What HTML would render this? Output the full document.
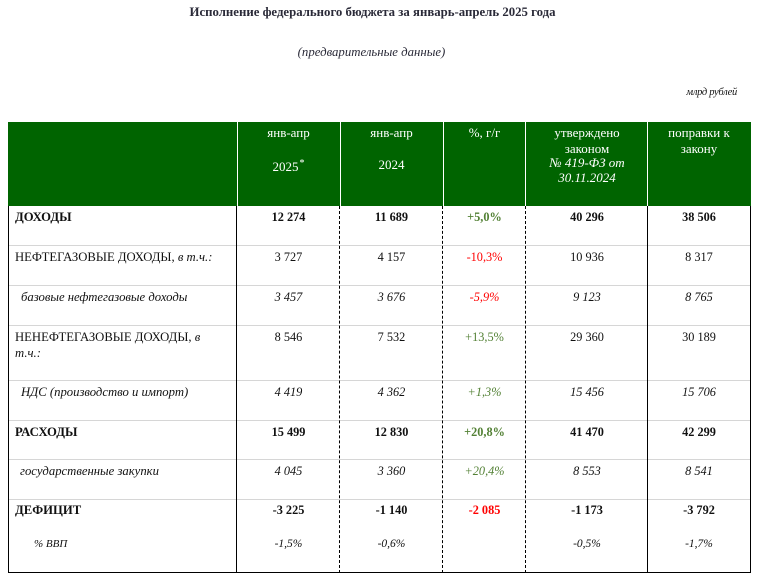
<!DOCTYPE html>
<html>
<head>
<meta charset="utf-8">
<style>
  html,body{margin:0;padding:0;background:#fff;}
  body{width:759px;height:579px;position:relative;overflow:hidden;font-family:"Liberation Serif","Noto Serif CJK SC",serif;color:#111;}
  .a{position:absolute;white-space:nowrap;}
  .t{font-size:12.3px;line-height:14px;}
  .L{font-size:12.7px;line-height:14px;}
  .c{text-align:center;}
  .b{font-weight:bold;}
  .i{font-style:italic;}
  .g{color:#538135;}
  .r{color:#ff0000;}
  .hl{position:absolute;height:1px;background:#d6d6d6;left:9px;width:741px;}
  .vs{position:absolute;width:1px;background:#000;top:206px;height:367px;}
  .vd{position:absolute;width:0;border-left:1px dashed #000;top:206px;height:367px;}
  .wh{position:absolute;width:1px;background:#fff;top:122px;height:84px;}
  .h{color:#fff;font-size:13px;line-height:14px;text-align:center;}
  .p{font-size:11.5px;line-height:12px;}
</style>
</head>
<body>
<!-- Title -->
<div class="a b" style="left:0;width:745px;top:4px;font-size:12.8px;line-height:17px;text-align:center;color:#2a2a38;">Исполнение федерального бюджета за январь-апрель 2025 года</div>
<div class="a i" style="left:0;width:743px;top:44px;font-size:12.8px;line-height:17px;text-align:center;color:#2a2a38;">(предварительные данные)</div>
<div class="a i" style="right:22px;top:86px;font-size:10.5px;line-height:13px;letter-spacing:-0.3px;color:#111;">млрд рублей</div>

<!-- Header -->
<div class="a" style="left:8px;top:122px;width:743px;height:84px;background:#006400;"></div>
<div class="wh" style="left:237px;"></div>
<div class="wh" style="left:340px;"></div>
<div class="wh" style="left:443px;"></div>
<div class="wh" style="left:525px;"></div>
<div class="wh" style="left:647px;"></div>

<div class="a h" style="left:237px;width:103px;top:126px;">янв-апр</div>
<div class="a h" style="left:237px;width:103px;top:160px;">2025<span style="position:relative;top:-5px;font-size:10px;margin-left:1px;">*</span></div>
<div class="a h" style="left:340px;width:103px;top:126px;">янв-апр</div>
<div class="a h" style="left:340px;width:103px;top:158px;">2024</div>
<div class="a h" style="left:443px;width:83px;top:126px;">%, г/г</div>
<div class="a h" style="left:526px;width:122px;top:126px;">утверждено</div>
<div class="a h" style="left:526px;width:122px;top:142px;">законом</div>
<div class="a h i" style="left:526px;width:122px;top:156px;">№ 419-ФЗ от</div>
<div class="a h i" style="left:526px;width:122px;top:171px;">30.11.2024</div>
<div class="a h" style="left:648px;width:102px;top:126px;">поправки к</div>
<div class="a h" style="left:648px;width:102px;top:142px;">закону</div>

<!-- Horizontal separators -->
<div class="hl" style="top:245px;"></div>
<div class="hl" style="top:285px;"></div>
<div class="hl" style="top:325px;"></div>
<div class="hl" style="top:380px;"></div>
<div class="hl" style="top:420px;"></div>
<div class="hl" style="top:459px;"></div>
<div class="hl" style="top:499px;"></div>

<!-- Vertical lines -->
<div class="vs" style="left:8px;"></div>
<div class="vs" style="left:236px;"></div>
<div class="vd" style="left:339px;"></div>
<div class="vd" style="left:442px;"></div>
<div class="vd" style="left:525px;"></div>
<div class="vs" style="left:647px;"></div>
<div class="vs" style="left:750px;"></div>
<div class="a" style="left:8px;top:572px;width:743px;height:1px;background:#000;"></div>

<!-- Row 1 ДОХОДЫ -->
<div class="a L b" style="left:15px;top:210px;">ДОХОДЫ</div>
<div class="a t b c" style="left:237px;width:103px;top:210px;">12 274</div>
<div class="a t b c" style="left:340px;width:103px;top:210px;">11 689</div>
<div class="a t b c g" style="left:443px;width:83px;top:210px;">+5,0%</div>
<div class="a t b c" style="left:526px;width:122px;top:210px;">40 296</div>
<div class="a t b c" style="left:648px;width:102px;top:210px;">38 506</div>

<!-- Row 2 -->
<div class="a L" style="left:15px;top:250px;">НЕФТЕГАЗОВЫЕ ДОХОДЫ, <i>в т.ч.:</i></div>
<div class="a t c" style="left:237px;width:103px;top:250px;">3 727</div>
<div class="a t c" style="left:340px;width:103px;top:250px;">4 157</div>
<div class="a t c r" style="left:443px;width:83px;top:250px;">-10,3%</div>
<div class="a t c" style="left:526px;width:122px;top:250px;">10 936</div>
<div class="a t c" style="left:648px;width:102px;top:250px;">8 317</div>

<!-- Row 3 -->
<div class="a L i" style="left:21px;top:290px;">базовые нефтегазовые доходы</div>
<div class="a t c i" style="left:237px;width:103px;top:290px;">3 457</div>
<div class="a t c i" style="left:340px;width:103px;top:290px;">3 676</div>
<div class="a t c i r" style="left:443px;width:83px;top:290px;">-5,9%</div>
<div class="a t c i" style="left:526px;width:122px;top:290px;">9 123</div>
<div class="a t c i" style="left:648px;width:102px;top:290px;">8 765</div>

<!-- Row 4 -->
<div class="a L" style="left:15px;top:330px;">НЕНЕФТЕГАЗОВЫЕ ДОХОДЫ, <i>в</i></div>
<div class="a L i" style="left:15px;top:346px;">т.ч.:</div>
<div class="a t c" style="left:237px;width:103px;top:330px;">8 546</div>
<div class="a t c" style="left:340px;width:103px;top:330px;">7 532</div>
<div class="a t c g" style="left:443px;width:83px;top:330px;">+13,5%</div>
<div class="a t c" style="left:526px;width:122px;top:330px;">29 360</div>
<div class="a t c" style="left:648px;width:102px;top:330px;">30 189</div>

<!-- Row 5 -->
<div class="a L i" style="left:21px;top:385px;">НДС (производство и импорт)</div>
<div class="a t c i" style="left:237px;width:103px;top:385px;">4 419</div>
<div class="a t c i" style="left:340px;width:103px;top:385px;">4 362</div>
<div class="a t c i g" style="left:443px;width:83px;top:385px;">+1,3%</div>
<div class="a t c i" style="left:526px;width:122px;top:385px;">15 456</div>
<div class="a t c i" style="left:648px;width:102px;top:385px;">15 706</div>

<!-- Row 6 РАСХОДЫ -->
<div class="a L b" style="left:15px;top:425px;">РАСХОДЫ</div>
<div class="a t b c" style="left:237px;width:103px;top:425px;">15 499</div>
<div class="a t b c" style="left:340px;width:103px;top:425px;">12 830</div>
<div class="a t b c g" style="left:443px;width:83px;top:425px;">+20,8%</div>
<div class="a t b c" style="left:526px;width:122px;top:425px;">41 470</div>
<div class="a t b c" style="left:648px;width:102px;top:425px;">42 299</div>

<!-- Row 7 -->
<div class="a L i" style="left:20px;top:464px;">государственные закупки</div>
<div class="a t c i" style="left:237px;width:103px;top:464px;">4 045</div>
<div class="a t c i" style="left:340px;width:103px;top:464px;">3 360</div>
<div class="a t c i g" style="left:443px;width:83px;top:464px;">+20,4%</div>
<div class="a t c i" style="left:526px;width:122px;top:464px;">8 553</div>
<div class="a t c i" style="left:648px;width:102px;top:464px;">8 541</div>

<!-- Row 8 ДЕФИЦИТ -->
<div class="a L b" style="left:15px;top:503px;">ДЕФИЦИТ</div>
<div class="a t b c" style="left:237px;width:103px;top:503px;">-3 225</div>
<div class="a t b c" style="left:340px;width:103px;top:503px;">-1 140</div>
<div class="a t b c r" style="left:443px;width:83px;top:503px;">-2 085</div>
<div class="a t b c" style="left:526px;width:122px;top:503px;">-1 173</div>
<div class="a t b c" style="left:648px;width:102px;top:503px;">-3 792</div>

<!-- Row 9 % ВВП -->
<div class="a i" style="left:34px;top:538px;font-size:11px;line-height:12px;">% ВВП</div>
<div class="a i c p" style="left:237px;width:103px;top:538px;">-1,5%</div>
<div class="a i c p" style="left:340px;width:103px;top:538px;">-0,6%</div>
<div class="a i c p" style="left:526px;width:122px;top:538px;">-0,5%</div>
<div class="a i c p" style="left:648px;width:102px;top:538px;">-1,7%</div>
</body>
</html>
